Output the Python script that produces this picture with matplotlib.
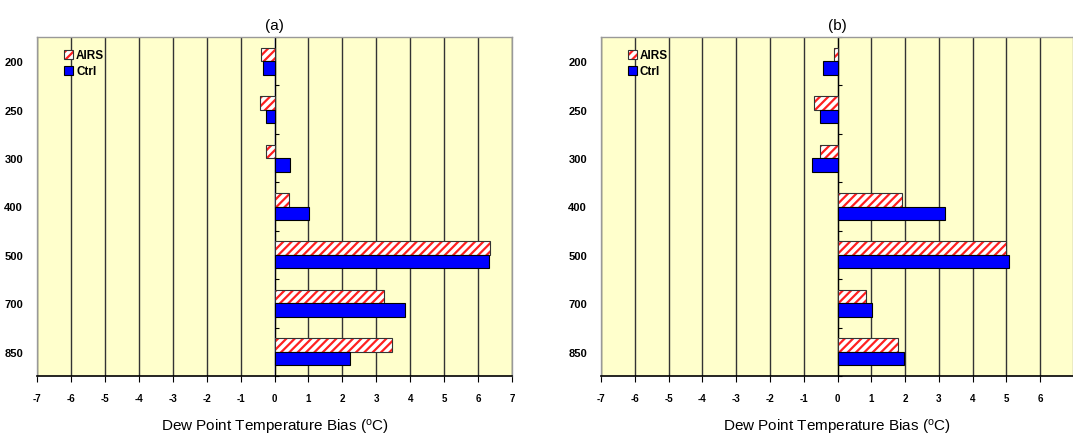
import matplotlib
matplotlib.use("Agg")
import matplotlib.pyplot as plt
import numpy as np
from matplotlib.patches import Patch
from matplotlib.legend_handler import HandlerTuple

plt.rcParams['font.family'] = ['Liberation Sans', 'DejaVu Sans']
plt.rcParams['hatch.linewidth'] = 1.6

levels = ['200', '250', '300', '400', '500', '700', '850']
airs_a = [-0.41, -0.44, -0.25, 0.44, 6.35, 3.22, 3.46]
ctrl_a = [-0.35, -0.24, 0.45, 1.01, 6.33, 3.84, 2.22]
airs_b = [-0.10, -0.71, -0.53, 1.90, 4.98, 0.84, 1.80]
ctrl_b = [-0.42, -0.53, -0.75, 3.18, 5.07, 1.02, 1.97]
titles = ['(a)', '(b)']
xlims = [(-7, 7), (-7, 6.97)]
xticks = [list(range(-7, 8)), list(range(-7, 7))]

fig = plt.figure(figsize=(10.73, 4.35), dpi=100)
W, H = 1073, 435
boxes = [(37, 38, 512, 377), (601, 38, 1073, 377)]
data = [(airs_a, ctrl_a), (airs_b, ctrl_b)]

for box, (airs, ctrl), title, xl, xt in zip(boxes, data, titles, xlims, xticks):
    l, t, r, b = box
    ax = fig.add_axes([l / W, 1 - b / H, (r - l) / W, (b - t) / H])
    ax.set_facecolor('#FFFFCC')
    y = np.arange(len(levels))
    h = 0.28
    ax.set_axisbelow(True)
    for v in xt:
        ax.axvline(v, color='#333333' if v != 0 else 'black', lw=1.0, zorder=1)
    ax.barh(y - h / 2, airs, height=h, color='white', edgecolor='#FF2020',
            hatch='////', lw=0, zorder=3)
    ax.barh(y - h / 2, airs, height=h, facecolor='none', edgecolor='#333333',
            lw=0.8, zorder=4)
    ax.barh(y + h / 2, ctrl, height=h, color='#0000FF', edgecolor='black',
            lw=0.8, zorder=4)
    ax.set_xlim(*xl)
    ax.set_ylim(len(levels) - 0.5, -0.5)
    ax.set_yticks(y)
    ax.set_yticklabels(levels, fontsize=8, fontweight='bold')
    ax.tick_params(axis='y', length=0, pad=10)
    ax.set_xticks(xt)
    ax.set_xticklabels([str(v) for v in xt], fontsize=7, fontweight='bold')
    ax.tick_params(axis='x', length=4, direction='out', pad=8, color='black')
    for s in ['left', 'top', 'right']:
        ax.spines[s].set_color('#999999')
        ax.spines[s].set_linewidth(1.0)
    ax.spines['bottom'].set_color('black')
    ax.spines['bottom'].set_linewidth(1.2)
    frac = (0 - xl[0]) / (xl[1] - xl[0])
    sec = ax.secondary_yaxis(frac)
    sec.set_yticks(np.arange(len(levels) + 1) - 0.5)
    sec.set_yticklabels([])
    sec.tick_params(axis='y', length=3, direction='out', color='black')
    sec.spines['left'].set_visible(False)
    ax.set_title(title, fontsize=11, pad=6)
    ax.set_xlabel('Dew Point Temperature Bias ($\\mathregular{^{o}}$C)', fontsize=11, labelpad=10)
    ha = (Patch(facecolor='white', edgecolor='#FF2020', hatch='////', lw=0),
          Patch(facecolor='none', edgecolor='#333333', lw=0.8))
    hc = Patch(facecolor='#0000FF', edgecolor='black', lw=0.8)
    leg = ax.legend([ha, hc], ['AIRS', 'Ctrl'], loc='upper left',
                    bbox_to_anchor=(0.035, 0.995), frameon=False,
                    prop={'size': 8.5, 'weight': 'bold'},
                    handlelength=0.75, handleheight=0.75, handletextpad=0.25,
                    labelspacing=0.35,
                    handler_map={tuple: HandlerTuple(ndivide=1, pad=0)})

fig.savefig('out.png', dpi=100)
